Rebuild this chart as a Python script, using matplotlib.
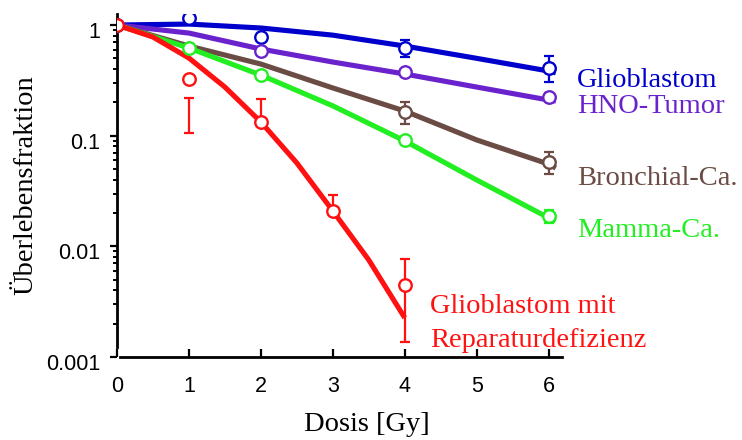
import matplotlib
matplotlib.use("Agg")
import matplotlib.pyplot as plt
import matplotlib.transforms as mtransforms
from matplotlib.ticker import LogLocator, FixedLocator, NullFormatter

# fitted curves (dose in Gy -> surviving fraction)
dose_line = [0, 1, 2, 3, 4, 5, 6, 6.1]
glio_line = [1.0, 1.02, 0.94, 0.81, 0.646, 0.50, 0.384, 0.37]
hno_line = [1.0, 0.846, 0.607, 0.463, 0.361, 0.275, 0.210, 0.206]
bronch_line = [1.0, 0.646, 0.444, 0.270, 0.167, 0.0915, 0.0554, 0.051]
mamma_line = [1.0, 0.62, 0.353, 0.186, 0.0897, 0.0398, 0.0181, 0.017]
red_dose_line = [0, 0.5, 1, 1.5, 2, 2.5, 3, 3.5, 4]
red_line = [1.0, 0.779, 0.503, 0.275, 0.133, 0.0567, 0.0209, 0.00753, 0.00226]

# measured points
glio_x = [0, 1, 2, 4, 6]
glio_y = [1.0, 1.157, 0.779, 0.620, 0.409]
hno_x = [2, 4, 6]
hno_y = [0.582, 0.376, 0.224]
bronch_x = [4, 6]
bronch_y = [0.164, 0.058]
mamma_x = [1, 2, 4, 6]
mamma_y = [0.62, 0.353, 0.0914, 0.0188]
red_x = [0, 1, 2, 3, 4]
red_y = [1.0, 0.325, 0.133, 0.0209, 0.00446]

# error bars: x, lower end, upper end
glio_err = ([4, 6], [0.51, 0.306], [0.73, 0.525])
hno_err = ([6], [0.205], [0.245])
bronch_err = ([4, 6], [0.127, 0.045], [0.201, 0.071])
mamma_err = ([6], [0.0163], [0.0211])
red_err = ([1, 2, 3, 4], [0.106, 0.133, 0.0209, 0.00138], [0.219, 0.215, 0.029, 0.00771])

blue = "#0000cc"
purple = "#6a22cc"
brown = "#6b4c44"
green = "#22ee22"
red = "#ff1111"

plt.rcParams["font.family"] = ["Liberation Sans", "DejaVu Sans"]

W, H = 742, 440
fig = plt.figure(figsize=(W / 100, H / 100), dpi=100)
ax = fig.add_axes([117 / W, 1 - 357 / H, 446 / W, (357 - 14.3) / H])

series = [
    (dose_line, glio_line, glio_x, glio_y, glio_err, blue),
    (dose_line, hno_line, hno_x, hno_y, hno_err, purple),
    (dose_line, bronch_line, bronch_x, bronch_y, bronch_err, brown),
    (dose_line, mamma_line, mamma_x, mamma_y, mamma_err, green),
    (red_dose_line, red_line, red_x, red_y, red_err, red),
]

for lx, ly, px, py, err, col in series:
    ax.plot(lx, ly, color=col, lw=3.7, solid_capstyle="butt", solid_joinstyle="round", zorder=2)
    ex, elo, ehi = err
    ax.vlines(ex, elo, ehi, color=col, lw=1.6, zorder=3)
    ax.plot(ex, elo, ls="none", marker="_", ms=7, mew=1.6, color=col, zorder=3)
    ax.plot(ex, ehi, ls="none", marker="_", ms=7, mew=1.6, color=col, zorder=3)
    ax.plot(px, py, ls="none", marker="o", ms=9, mfc="white", mec=col, mew=1.7, zorder=4)

ax.set_yscale("log")
ax.set_xlim(0, 6.2)
ax.set_ylim(0.001, 1.25)

ax.spines["top"].set_visible(False)
ax.spines["right"].set_visible(False)
ax.spines["left"].set_bounds(0.00123, 1.25)
ax.spines["bottom"].set_bounds(0.04, 6.19)
ax.spines["left"].set_linewidth(2)
ax.spines["bottom"].set_linewidth(2)

ax.set_xticks(range(7))
ax.yaxis.set_major_locator(FixedLocator([0.001, 0.01, 0.1, 1]))
ax.yaxis.set_minor_locator(LogLocator(base=10, subs=range(2, 10)))
ax.yaxis.set_minor_formatter(NullFormatter())
ax.set_yticklabels(["0.001", "0.01", "0.1", "1"])

ax.tick_params(axis="x", direction="in", length=6, width=1.6, labelsize=15.5, pad=14)
ax.tick_params(axis="y", which="major", direction="out", length=5, width=1.6, labelsize=15.5, pad=7)
ax.tick_params(axis="y", which="minor", direction="out", length=3, width=1.4)

shift = mtransforms.ScaledTranslation(0, -5 / 100, fig.dpi_scale_trans)
for lbl in ax.get_yticklabels():
    lbl.set_transform(lbl.get_transform() + shift)

serif = ["Liberation Serif", "DejaVu Serif"]
fig.text(26 / W, 1 - 185 / H, "Überlebensfraktion", rotation=90, ha="center", va="center",
         fontsize=20.5, family=serif)
fig.text(367 / W, 1 - 424 / H, "Dosis [Gy]", ha="center", va="center", fontsize=20.5, family=serif)

labels = [
    (577, 87, "Glioblastom", blue),
    (577, 113, "HNO-Tumor", purple),
    (577, 185, "Bronchial-Ca.", brown),
    (577, 237, "Mamma-Ca.", green),
    (430, 313, "Glioblastom mit", red),
    (430, 347, "Reparaturdefizienz", red),
]
for x, y, txt, col in labels:
    fig.text(x / W, 1 - y / H, txt, color=col, fontsize=20.5, family=serif, ha="left", va="baseline")

fig.savefig("out.png", dpi=100)
